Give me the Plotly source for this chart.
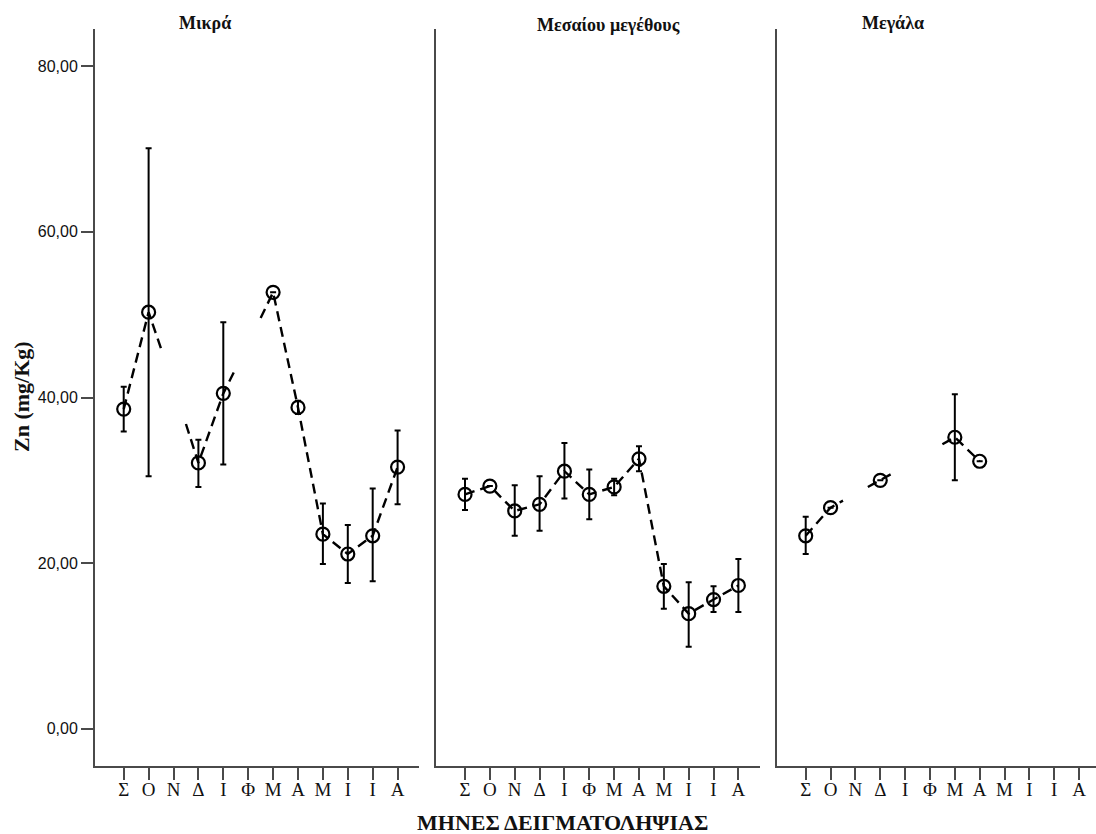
import plotly.graph_objects as go

# ---------------- data ----------------
months = ["Σ", "Ο", "Ν", "Δ", "Ι", "Φ", "Μ", "Α", "Μ", "Ι", "Ι", "Α"]
panels = ["Μικρά", "Μεσαίου μεγέθους", "Μεγάλα"]

# Μικρά
small_mean  = [38.6, 50.3, None, 32.1, 40.5, None, 52.7, 38.8, 23.5, 21.1, 23.3, 31.6]
small_upper = [41.3, 70.1, None, 34.9, 49.1, None, 52.7, 39.6, 27.2, 24.6, 29.0, 36.0]
small_lower = [35.9, 30.5, None, 29.2, 31.9, None, 52.7, 38.0, 19.9, 17.6, 17.8, 27.1]
small_hidden = [None, None, 41.5, None, None, 46.5, None, None, None, None, None, None]

# Μεσαίου μεγέθους
medium_mean  = [28.3, 29.3, 26.3, 27.1, 31.1, 28.3, 29.2, 32.6, 17.2, 13.9, 15.6, 17.3]
medium_upper = [30.2, 29.3, 29.4, 30.5, 34.5, 31.3, 30.2, 34.1, 19.9, 17.7, 17.2, 20.5]
medium_lower = [26.4, 29.3, 23.3, 23.9, 27.8, 25.3, 28.2, 31.1, 14.5,  9.9, 14.1, 14.1]
medium_hidden = [None] * 12

# Μεγάλα
large_mean  = [23.3, 26.7, None, 30.0, None, None, 35.2, 32.3, None, None, None, None]
large_upper = [25.6, 26.7, None, 30.0, None, None, 40.4, 32.3, None, None, None, None]
large_lower = [21.1, 26.7, None, 30.0, None, None, 30.0, 32.3, None, None, None, None]
large_hidden = [None, None, 28.4, None, 31.7, 33.5, None, None, None, None, None, None]

y_ticks = [0, 20, 40, 60, 80]
y_tick_text = ["0,00", "20,00", "40,00", "60,00", "80,00"]
y_title = "Zn (mg/Kg)"
x_title = "ΜΗΝΕΣ ΔΕΙΓΜΑΤΟΛΗΨΙΑΣ"

# ---------------- layout geometry (pixels) ----------------
W, H = 1096, 834
ML, MR, MT, MB = 95, 0, 29, 68
PW = W - ML - MR
PH = H - MT - MB


def fx(px):
    return (px - ML) / PW


def fy(py):
    return (H - MB - py) / PH


x_domains = [[fx(95), fx(419)], [fx(435.7), fx(760)], [fx(776.7), fx(1096)]]
x_ranges = [[-1.153, 11.86], [-1.18, 11.87], [-1.167, 11.68]]
y_range = [-4.5, 84.5]

AX_COL = "#4a4a4a"
SERIF = "Liberation Serif, Times New Roman, serif"
SANS = "Liberation Sans, Arial, sans-serif"


def line_path(mean, hidden):
    """Dashed connector: full segments between shown points, half segments
    from a shown point toward a neighbouring month with no marker."""
    n = len(mean)
    xs, ys = [], []
    last_end = None
    for i in range(n - 1):
        a = mean[i] if mean[i] is not None else hidden[i]
        b = mean[i + 1] if mean[i + 1] is not None else hidden[i + 1]
        if a is None or b is None:
            continue
        ra, rb = mean[i] is not None, mean[i + 1] is not None
        if ra and rb:
            seg = [(i, a), (i + 1, b)]
        elif ra:
            seg = [(i, a), (i + 0.5, (a + b) / 2)]
        elif rb:
            seg = [(i + 0.5, (a + b) / 2), (i + 1, b)]
        else:
            continue
        if last_end is not None and last_end == seg[0]:
            xs.append(seg[1][0]); ys.append(seg[1][1])
        else:
            if xs:
                xs.append(None); ys.append(None)
            xs += [seg[0][0], seg[1][0]]; ys += [seg[0][1], seg[1][1]]
        last_end = seg[1]
    return xs, ys


fig = go.Figure()
series = [
    (small_mean, small_upper, small_lower, small_hidden),
    (medium_mean, medium_upper, medium_lower, medium_hidden),
    (large_mean, large_upper, large_lower, large_hidden),
]

for k, (mean, up, lo, hid) in enumerate(series):
    xa = "x" if k == 0 else f"x{k + 1}"
    ya = "y" if k == 0 else f"y{k + 1}"
    lx, ly = line_path(mean, hid)
    fig.add_trace(go.Scatter(
        x=lx, y=ly, mode="lines", xaxis=xa, yaxis=ya,
        line=dict(color="black", width=2.4, dash="10px,6px"),
        hoverinfo="skip", showlegend=False))
    px_, py_, ep, em = [], [], [], []
    for i, m in enumerate(mean):
        if m is None:
            continue
        px_.append(i); py_.append(m)
        ep.append(up[i] - m); em.append(m - lo[i])
    fig.add_trace(go.Scatter(
        x=px_, y=py_, mode="markers", xaxis=xa, yaxis=ya,
        marker=dict(symbol="circle-open", size=13, color="black",
                    line=dict(width=2.2, color="black")),
        error_y=dict(type="data", array=ep, arrayminus=em, visible=True,
                     color="black", thickness=2, width=3),
        showlegend=False))

layout = dict(
    width=W, height=H,
    margin=dict(l=ML, r=MR, t=MT, b=MB, autoexpand=False),
    paper_bgcolor="white", plot_bgcolor="white",
    showlegend=False,
)

for k in range(3):
    xkey = "xaxis" if k == 0 else f"xaxis{k + 1}"
    ykey = "yaxis" if k == 0 else f"yaxis{k + 1}"
    ya = "y" if k == 0 else f"y{k + 1}"
    xa = "x" if k == 0 else f"x{k + 1}"
    layout[xkey] = dict(
        domain=x_domains[k], range=x_ranges[k], anchor=ya,
        tickmode="array", tickvals=list(range(len(months))), ticktext=months,
        ticks="outside", ticklen=12, tickwidth=1.5, tickcolor=AX_COL,
        ticklabelstandoff=-7,
        showline=True, linecolor=AX_COL, linewidth=2,
        showgrid=False, zeroline=False, fixedrange=True,
        tickfont=dict(family=SERIF, size=19, color="#111"),
    )
    layout[ykey] = dict(
        domain=[0, 1], range=y_range, anchor=xa,
        showline=True, linecolor=AX_COL, linewidth=2,
        showgrid=False, zeroline=False, fixedrange=True,
    )
    if k == 0:
        layout[ykey].update(
            tickmode="array", tickvals=y_ticks, ticktext=y_tick_text,
            ticks="outside", ticklen=12, tickwidth=1.5, tickcolor=AX_COL,
            tickfont=dict(family=SANS, size=16, color="#111"))
    else:
        layout[ykey].update(showticklabels=False, ticks="")

fig.update_layout(**layout)

title_pos = [(205, 23), (608, 25), (893, 23)]
for name, (tx, ty) in zip(panels, title_pos):
    fig.add_annotation(x=fx(tx), y=fy(ty), xref="paper", yref="paper",
                       text=f"<b>{name}</b>", showarrow=False,
                       xanchor="center", yanchor="middle",
                       font=dict(family=SERIF, size=18, color="#111"))

fig.add_annotation(x=fx(562), y=fy(822), xref="paper", yref="paper",
                   text=f"<b>{x_title}</b>", showarrow=False,
                   xanchor="center", yanchor="middle",
                   font=dict(family=SERIF, size=22, color="#111"))
fig.add_annotation(x=fx(22), y=fy(397), xref="paper", yref="paper",
                   text=f"<b>{y_title}</b>", showarrow=False, textangle=-90,
                   xanchor="center", yanchor="middle",
                   font=dict(family=SERIF, size=22, color="#111"))

fig.write_html("out.html",
               config={"displayModeBar": False},
               post_script="document.body.style.margin='0';"
                           "document.body.style.overflow='hidden';")
